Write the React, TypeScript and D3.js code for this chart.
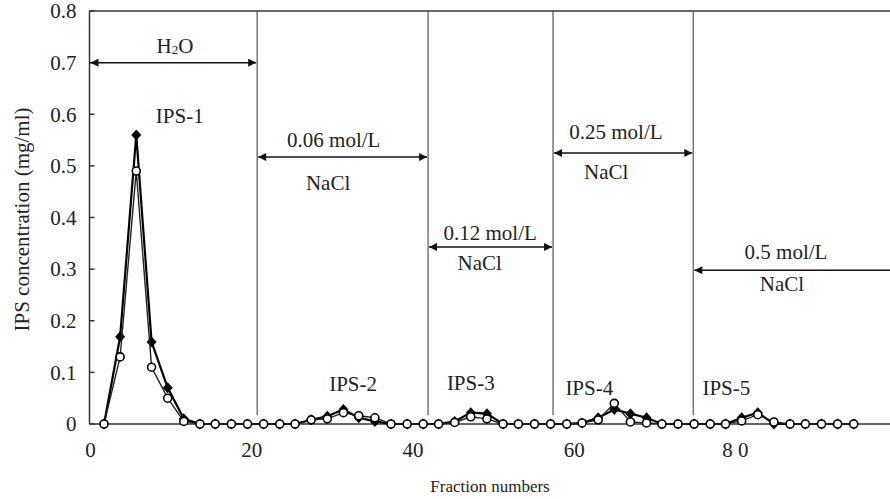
import React from "react";
import * as d3 from "d3";

const fractions = [1.8, 3.8, 5.8, 7.7, 9.7, 11.7, 13.7, 15.6, 17.6, 19.6, 21.6, 23.6, 25.5, 27.5, 29.5, 31.5, 33.4, 35.4, 37.4, 39.4, 41.4, 43.3, 45.3, 47.3, 49.3, 51.3, 53.2, 55.2, 57.2, 59.2, 61.1, 63.1, 65.1, 67.1, 69.1, 71.0, 73.0, 75.0, 77.0, 78.9, 80.9, 82.9, 84.9, 86.9, 88.8, 90.8, 92.8, 94.8];

const seriesFilled = [0, 0.169, 0.56, 0.159, 0.07, 0.01, 0, 0, 0, 0, 0, 0, 0, 0.008, 0.015, 0.028, 0.012, 0.005, 0, 0, 0, 0, 0.005, 0.022, 0.02, 0, 0, 0, 0, 0, 0.002, 0.012, 0.028, 0.02, 0.012, 0, 0, 0, 0, 0, 0.012, 0.022, 0, 0, 0, 0, 0, 0];

const seriesOpen = [0, 0.13, 0.49, 0.11, 0.05, 0.005, 0, 0, 0, 0, 0, 0, 0, 0.008, 0.01, 0.022, 0.016, 0.012, 0, 0, 0, 0, 0.003, 0.014, 0.01, 0, 0, 0, 0, 0, 0.002, 0.008, 0.04, 0.004, 0.002, 0, 0, 0, 0, 0, 0.006, 0.018, 0.004, 0, 0, 0, 0, 0];

const yTicks = [0, 0.1, 0.2, 0.3, 0.4, 0.5, 0.6, 0.7, 0.8];
const xTickValues = [0, 20, 40, 60, 80];
const xTickLabels = ["0", "20", "40", "60", "8 0"];

const boundaries = [20.8, 42.0, 57.5, 74.9];

const arrowFrom = [0, 20.8, 42.0, 57.5, 74.9];
const arrowTo = [20.8, 42.0, 57.5, 74.9, 99.3];
const arrowY = [0.7, 0.517, 0.343, 0.525, 0.298];
const arrowEndHead = [true, true, true, true, false];

const labelTexts = ["IPS-1", "0.06 mol/L", "NaCl", "0.12 mol/L", "NaCl", "0.25 mol/L", "NaCl", "0.5 mol/L", "NaCl", "IPS-2", "IPS-3", "IPS-4", "IPS-5"];
const labelX = [11.2, 30.3, 29.6, 49.7, 48.4, 65.3, 64.1, 86.4, 85.9, 32.7, 47.3, 62.0, 79.0];
const labelY = [0.583, 0.537, 0.453, 0.357, 0.298, 0.552, 0.475, 0.320, 0.258, 0.064, 0.066, 0.056, 0.056];
const waterLabelX = 10.6;
const waterLabelY = 0.719;

const W = 890;
const H = 499;
const left = 89.5;
const right = 890;
const top = 11;
const bottom = 424;

export default function App() {
  const x = d3.scaleLinear().domain([0, 99.3]).range([left, right]);
  const y = d3.scaleLinear().domain([0, 0.8]).range([bottom, top]);
  const pts = fractions.map((f, i) => ({ f, a: seriesFilled[i], b: seriesOpen[i] }));
  const lineA = d3.line<any>().x((d) => x(d.f)).y((d) => y(d.a));
  const lineB = d3.line<any>().x((d) => x(d.f)).y((d) => y(d.b));
  const font = "'Liberation Serif', 'DejaVu Serif', serif";
  const axisColor = "#333";
  const fs = 21;

  return (
    <svg width={W} height={H} style={{ position: "absolute", left: 0, top: 0, background: "#fff" }} fontFamily={font}>
      <defs>
        <marker id="ah" viewBox="0 0 10 10" refX="10" refY="5" markerWidth="9" markerHeight="8" markerUnits="userSpaceOnUse" orient="auto-start-reverse">
          <path d="M0,0 L10,5 L0,10 z" fill="#111" />
        </marker>
      </defs>
      <rect x={0} y={0} width={W} height={H} fill="#fff" />

      {boundaries.map((b, i) => (
        <line key={"b" + i} x1={x(b)} x2={x(b)} y1={y(0.8)} y2={y(0.017)} stroke="#777" strokeWidth={1.5} />
      ))}

      <line x1={left} x2={right} y1={bottom} y2={bottom} stroke={axisColor} strokeWidth={1.5} />
      <line x1={left} x2={right} y1={top} y2={top} stroke={axisColor} strokeWidth={1.5} />
      <line x1={left} x2={left} y1={top} y2={bottom} stroke={axisColor} strokeWidth={1.5} />
      {yTicks.map((t, i) => (
        <g key={"yt" + i}>
          <line x1={left} x2={left + 5} y1={y(t)} y2={y(t)} stroke={axisColor} strokeWidth={1.5} />
          <text x={left - 13} y={y(t)} dy="0.35em" textAnchor="end" fontSize={fs} fill="#222">
            {t === 0 ? "0" : d3.format(".1f")(t)}
          </text>
        </g>
      ))}
      {xTickValues.map((t, i) => (
        <text key={"xt" + i} x={x(t) + 1} y={bottom + 33} textAnchor="middle" fontSize={fs} fill="#222">
          {xTickLabels[i]}
        </text>
      ))}
      <text x={490} y={492} textAnchor="middle" fontSize={17} fill="#222">Fraction numbers</text>
      <text transform={`translate(29, ${(top + bottom) / 2 + 2}) rotate(-90)`} textAnchor="middle" fontSize={21} fill="#222">
        IPS concentration (mg/ml)
      </text>

      {arrowFrom.map((a, i) => (
        <line key={"ar" + i} x1={x(a) + 1} x2={x(arrowTo[i]) - (arrowEndHead[i] ? 1 : 0)} y1={y(arrowY[i])} y2={y(arrowY[i])}
          stroke="#111" strokeWidth={1.5} markerStart="url(#ah)" markerEnd={arrowEndHead[i] ? "url(#ah)" : undefined} />
      ))}

      <text x={x(waterLabelX)} y={y(waterLabelY)} textAnchor="middle" fontSize={fs} fill="#222">
        H<tspan fontSize={13} dy="1">2</tspan><tspan dy="-1">O</tspan>
      </text>
      {labelTexts.map((t, i) => (
        <text key={"lb" + i} x={x(labelX[i])} y={y(labelY[i])} textAnchor="middle" fontSize={fs} fill="#222">{t}</text>
      ))}

      <path d={lineA(pts) || ""} fill="none" stroke="#000" strokeWidth={2.2} />
      {pts.map((p, i) => (
        <path key={"da" + i} transform={`translate(${x(p.f)},${y(p.a)})`} d="M0,-5.5 L5,0 L0,5.5 L-5,0 Z" fill="#000" />
      ))}
      <path d={lineB(pts) || ""} fill="none" stroke="#222" strokeWidth={1.4} />
      {pts.map((p, i) => (
        <circle key={"cb" + i} cx={x(p.f)} cy={y(p.b)} r={4} fill="#fff" stroke="#000" strokeWidth={1.6} />
      ))}
    </svg>
  );
}
